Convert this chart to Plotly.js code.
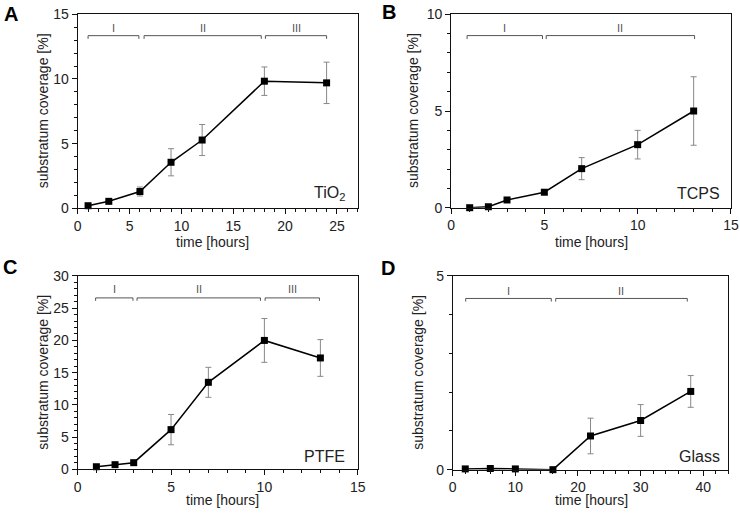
<!DOCTYPE html>
<html>
<head>
<meta charset="utf-8">
<script src="https://cdn.plot.ly/plotly-3.0.1.min.js"></script>
<style>html,body{margin:0;padding:0;background:#fff;}#chart{width:740px;height:515px;}</style>
</head>
<body>
<div id="chart"></div>
<script>
// ---- Data ----
const timeA = [1, 3, 6, 9, 12, 18, 24];
const covA  = [0.2, 0.54, 1.3, 3.56, 5.28, 9.83, 9.7];
const errA  = [0.08, 0.1, 0.35, 1.05, 1.2, 1.1, 1.6];
const phaseStartA = [1, 6.4, 18.1];
const phaseEndA   = [5.9, 17.7, 24];
const phaseLabelsA = ["I", "II", "III"];

const timeB = [1, 2, 3, 5, 7, 10, 13];
const covB  = [0.0, 0.05, 0.4, 0.8, 2.02, 3.26, 5.0];
const errB  = [0.04, 0.05, 0.1, 0.12, 0.57, 0.74, 1.77];
const phaseStartB = [0.86, 5.1];
const phaseEndB   = [4.9, 13.05];
const phaseLabelsB = ["I", "II"];

const timeC = [1, 2, 3, 5, 7, 10, 13];
const covC  = [0.4, 0.72, 1.03, 6.16, 13.5, 20.0, 17.28];
const errC  = [0.2, 0.2, 0.25, 2.35, 2.33, 3.4, 2.85];
const phaseStartC = [0.96, 3.18, 10.04];
const phaseEndC   = [2.96, 9.79, 12.95];
const phaseLabelsC = ["I", "II", "III"];

const timeD = [2, 6, 10, 16, 22, 30, 38];
const covD  = [0.02, 0.03, 0.02, 0.0, 0.87, 1.27, 2.02];
const errD  = [0.02, 0.02, 0.02, 0.01, 0.46, 0.41, 0.41];
const phaseStartD = [2.07, 16.44];
const phaseEndD   = [15.74, 37.45];
const phaseLabelsD = ["I", "II"];

const materials = ["TiO<sub>2</sub>", "TCPS", "PTFE", "Glass"];
const panelLetters = ["A", "B", "C", "D"];

// ---- Build ----
const FONT = "Liberation Sans, Arial, sans-serif";
const panels = [
  {t: timeA, c: covA, e: errA, ps: phaseStartA, pe: phaseEndA, pl: phaseLabelsA, by: 13.35, bd: 0.25, ly: 13.92, ax: 'x', ay: 'y'},
  {t: timeB, c: covB, e: errB, ps: phaseStartB, pe: phaseEndB, pl: phaseLabelsB, by: 8.9, bd: 0.18, ly: 9.28, ax: 'x2', ay: 'y2'},
  {t: timeC, c: covC, e: errC, ps: phaseStartC, pe: phaseEndC, pl: phaseLabelsC, by: 26.6, bd: 0.45, ly: 27.94, ax: 'x3', ay: 'y3'},
  {t: timeD, c: covD, e: errD, ps: phaseStartD, pe: phaseEndD, pl: phaseLabelsD, by: 4.42, bd: 0.08, ly: 4.62, ax: 'x4', ay: 'y4'}
];

const traces = [];
const annotations = [];
panels.forEach((p, i) => {
  // brackets
  p.ps.forEach((s, k) => {
    const e = p.pe[k];
    traces.push({
      x: [s, s, e, e], y: [p.by - p.bd, p.by, p.by, p.by - p.bd],
      xaxis: p.ax, yaxis: p.ay, mode: 'lines', showlegend: false,
      line: {color: '#555', width: 1}, hoverinfo: 'skip', cliponaxis: false
    });
    annotations.push({
      x: (s + e) / 2, y: p.ly, xref: p.ax, yref: p.ay, text: p.pl[k],
      showarrow: false, xanchor: 'center', yanchor: 'middle', font: {family: FONT, size: 11, color: '#555'}
    });
  });
  traces.push({
    x: p.t, y: p.c, xaxis: p.ax, yaxis: p.ay, mode: 'lines+markers', showlegend: false,
    line: {color: '#000', width: 1.5},
    marker: {symbol: 'square', size: 7, color: '#000'},
    error_y: {type: 'data', array: p.e, visible: true, color: '#888', thickness: 1, width: 3},
    cliponaxis: false
  });
});

const axisBase = {
  showgrid: false, zeroline: false, showline: true, linecolor: '#111', linewidth: 1,
  mirror: true, ticks: 'outside', ticklen: 5, tickcolor: '#111', tickwidth: 1,
  tickfont: {family: FONT, size: 14, color: '#222'}, fixedrange: true
};
function ax(extra) { return Object.assign({}, axisBase, extra); }
function minor(d) { return {dtick: d, ticklen: 3, ticks: 'outside', tickcolor: '#111'}; }

const xd = [[0.105, 0.4834], [0.6095, 0.9878], [0.105, 0.4834], [0.6118, 0.9842]];
const yd = [[0.5955, 0.9722], [0.5967, 0.9722], [0.0887, 0.4641], [0.0880, 0.4641]];

const layout = {
  width: 740, height: 515,
  margin: {l: 0, r: 0, t: 0, b: 0},
  paper_bgcolor: '#fff', plot_bgcolor: '#fff',
  showlegend: false,
  xaxis:  ax({domain: xd[0], anchor: 'y',  range: [0, 27], dtick: 5, tick0: 0, minor: minor(1)}),
  yaxis:  ax({domain: yd[0], anchor: 'x',  range: [0, 15], dtick: 5, tick0: 0, minor: minor(1)}),
  xaxis2: ax({domain: xd[1], anchor: 'y2', range: [0, 15], dtick: 5, tick0: 0, minor: minor(1)}),
  yaxis2: ax({domain: yd[1], anchor: 'x2', range: [0, 10], dtick: 5, tick0: 0, minor: minor(1)}),
  xaxis3: ax({domain: xd[2], anchor: 'y3', range: [0, 15], dtick: 5, tick0: 0, minor: minor(1)}),
  yaxis3: ax({domain: yd[2], anchor: 'x3', range: [0, 30], dtick: 5, tick0: 0, minor: minor(1)}),
  xaxis4: ax({domain: xd[3], anchor: 'y4', range: [0, 44], dtick: 10, tick0: 0, minor: minor(2)}),
  yaxis4: ax({domain: yd[3], anchor: 'x4', range: [0, 5], dtick: 5, tick0: 0, minor: minor(1)}),
  annotations: annotations
};

// axis titles, material labels and panel letters
const titleFont = {family: FONT, size: 14, color: '#222'};
const letterPos = [[11, 14.5], [388.7, 11.7], [10, 266.5], [387.5, 267.8]];
const yTitleX = [43, 413, 43, 418];
const xTitleX = [212, 591, 222, 591];
const xTitleY = [242, 242, 500, 500];
const materialRight = [347, 722, 347, 722];
const materialY = [194, 193, 456, 456];
for (let i = 0; i < 4; i++) {
  const ymid = (yd[i][0] + yd[i][1]) / 2;
  annotations.push({
    x: xTitleX[i] / 740, y: 1 - xTitleY[i] / 515, xref: 'paper', yref: 'paper',
    xanchor: 'center', yanchor: 'middle',
    text: 'time [hours]', showarrow: false, font: titleFont
  });
  annotations.push({
    x: yTitleX[i] / 740, y: ymid, xref: 'paper', yref: 'paper',
    xanchor: 'center', yanchor: 'middle',
    text: 'substratum coverage [%]', textangle: -90, showarrow: false, font: titleFont
  });
  annotations.push({
    x: materialRight[i] / 740, y: 1 - materialY[i] / 515, xref: 'paper', yref: 'paper',
    xanchor: 'right', yanchor: 'middle', text: materials[i], showarrow: false,
    font: {family: FONT, size: 16, color: '#222'}
  });
  annotations.push({
    x: letterPos[i][0] / 740, y: 1 - letterPos[i][1] / 515, xref: 'paper', yref: 'paper',
    xanchor: 'center', yanchor: 'middle', text: '<b>' + panelLetters[i] + '</b>', showarrow: false,
    font: {family: FONT, size: 20, color: '#000'}
  });
}

Plotly.newPlot('chart', traces, layout, {staticPlot: true, displayModeBar: false});
</script>
</body>
</html>
